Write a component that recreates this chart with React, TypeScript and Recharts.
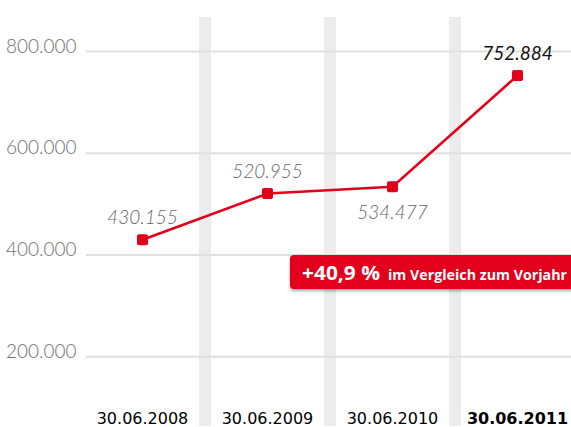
import React from "react";
import {
  ComposedChart,
  Line,
  XAxis,
  YAxis,
  ReferenceArea,
  ReferenceLine,
  LabelList,
} from "recharts";

const dates = ["30.06.2008", "30.06.2009", "30.06.2010", "30.06.2011"];
const values = [430155, 520955, 534477, 752884];
const yTicks = [200000, 400000, 600000, 800000];
const labelBelow = [false, false, true, false];
const changeText = "+40,9 %";
const changeNote = "im Vergleich zum Vorjahr";

const RED = "#e2001a";

const fmt = (v: number) => v.toString().replace(/\B(?=(\d{3})+(?!\d))/g, ".");

const data = dates.map((d, i) => ({ x: i, date: d, value: values[i] }));

const YTick = (props: any) => {
  const { y, payload } = props;
  return (
    <text
      x={6}
      y={y + 1}
      fill="#707070"
      fontFamily="Lato, 'Open Sans', sans-serif"
      fontWeight={300}
      fontSize={19}
    >
      {fmt(payload.value)}
    </text>
  );
};

const XTick = (props: any) => {
  const { x, payload } = props;
  const last = payload.value === dates.length - 1;
  return (
    <text
      x={x}
      y={424}
      textAnchor="middle"
      fill="#000"
      fontFamily="'DejaVu Sans', sans-serif"
      fontWeight={last ? 700 : 400}
      fontSize={16}
    >
      {dates[payload.value]}
    </text>
  );
};

const Dot = (props: any) => {
  const { cx, cy } = props;
  if (cx == null || cy == null) return null;
  return <rect x={cx - 5.5} y={cy - 5.5} width={11} height={11} rx={2} fill={RED} />;
};

const ValueLabel = (props: any) => {
  const { x, y, index } = props;
  const below = labelBelow[index];
  const last = index === values.length - 1;
  return (
    <text
      x={x}
      y={below ? y + 32 : y - 16}
      textAnchor="middle"
      fill={last ? "#111" : "#666"}
      fontFamily="Lato, 'Open Sans', sans-serif"
      fontStyle="italic"
      fontWeight={last ? 400 : 300}
      fontSize={19}
    >
      {fmt(values[index])}
    </text>
  );
};

const App = () => {
  return (
    <div style={{ position: "absolute", left: 0, top: 0, width: 571, height: 427, background: "#fff" }}>
      <ComposedChart
        width={571}
        height={427}
        data={data}
        margin={{ top: 17, right: 0, bottom: 0, left: 0 }}
      >
        {[0, 1, 2].map((i) => (
          <ReferenceArea
            key={i}
            x1={i + 0.452}
            x2={i + 0.548}
            fill="#ececec"
            fillOpacity={1}
            stroke="none"
            ifOverflow="visible"
          />
        ))}
        {yTicks.map((t) => (
          <ReferenceLine key={t} y={t} stroke="#e0e0e0" strokeWidth={2} />
        ))}
        <XAxis
          dataKey="x"
          type="number"
          domain={[-0.452, 3.428]}
          ticks={[0, 1, 2, 3]}
          height={1}
          axisLine={false}
          tickLine={false}
          tick={<XTick />}
          interval={0}
        />
        <YAxis
          type="number"
          domain={[64118, 868039]}
          ticks={yTicks}
          width={86}
          axisLine={false}
          tickLine={false}
          tick={<YTick />}
          interval={0}
        />
        <Line
          dataKey="value"
          stroke={RED}
          strokeWidth={2.5}
          dot={<Dot />}
          activeDot={false}
          isAnimationActive={false}
        >
          <LabelList dataKey="value" content={<ValueLabel />} />
        </Line>
      </ComposedChart>
      <svg
        width={571}
        height={427}
        style={{ position: "absolute", left: 0, top: 0, pointerEvents: "none" }}
      >
        <defs>
          <filter id="shadow" x="-10%" y="-30%" width="120%" height="180%">
            <feDropShadow dx="0" dy="2" stdDeviation="1.5" floodColor="#000" floodOpacity="0.35" />
          </filter>
        </defs>
        <rect x={290} y={255} width={285} height={34} rx={4} fill={RED} filter="url(#shadow)" />
        <text
          x={302}
          y={280}
          fill="#fff"
          fontFamily="'Open Sans', sans-serif"
          fontWeight={700}
          fontSize={20}
          textLength={78}
          lengthAdjust="spacingAndGlyphs"
        >
          {changeText}
        </text>
        <text
          x={388}
          y={280}
          fill="#fff"
          fontFamily="'Open Sans', sans-serif"
          fontWeight={700}
          fontSize={14}
          textLength={179}
          lengthAdjust="spacingAndGlyphs"
        >
          {changeNote}
        </text>
      </svg>
    </div>
  );
};

export default App;
